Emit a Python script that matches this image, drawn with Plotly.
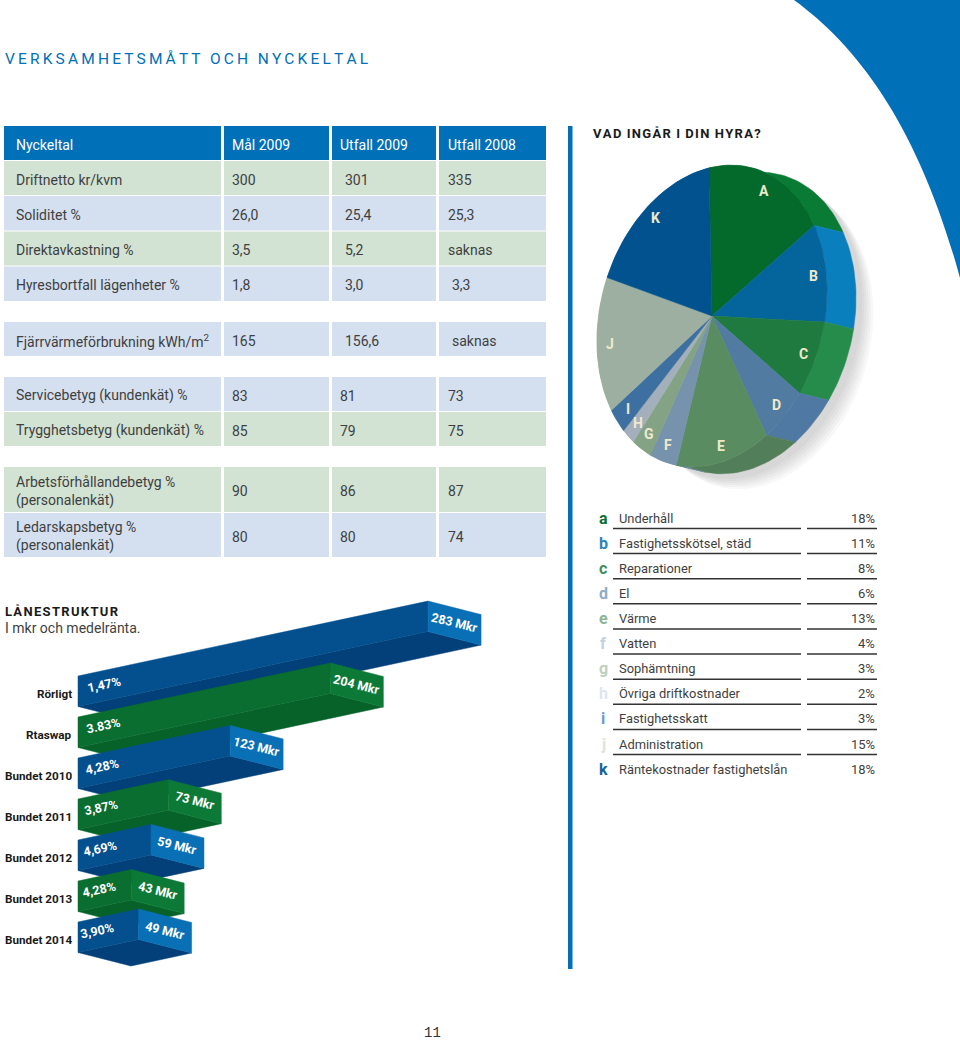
import math
import plotly.graph_objects as go

# ---------- data ----------
table_headers = ["Nyckeltal", "Mål 2009", "Utfall 2009", "Utfall 2008"]
table_labels = ["Driftnetto kr/kvm", "Soliditet %", "Direktavkastning %", "Hyresbortfall lägenheter %",
                "Fjärrvärmeförbrukning kWh/m<sup>2</sup>", "Servicebetyg (kundenkät) %",
                "Trygghetsbetyg (kundenkät) %", "Arbetsförhållandebetyg %<br>(personalenkät)",
                "Ledarskapsbetyg %<br>(personalenkät)"]
table_mal = ["300", "26,0", "3,5", "1,8", "165", "83", "85", "90", "80"]
table_utfall09 = ["301", "25,4", "5,2", "3,0", "156,6", "81", "79", "86", "80"]
table_utfall08 = ["335", "25,3", "saknas", "3,3", "saknas", "73", "75", "87", "74"]

cost_letters = ["a", "b", "c", "d", "e", "f", "g", "h", "i", "j", "k"]
cost_names = ["Underhåll", "Fastighetsskötsel, städ", "Reparationer", "El", "Värme", "Vatten", "Sophämtning",
              "Övriga driftkostnader", "Fastighetsskatt", "Administration", "Räntekostnader fastighetslån"]
cost_shares = [18, 11, 8, 6, 13, 4, 3, 2, 3, 15, 18]

loan_names = ["Rörligt", "Rtaswap", "Bundet 2010", "Bundet 2011", "Bundet 2012", "Bundet 2013", "Bundet 2014"]
loan_mkr = [283, 204, 123, 73, 59, 43, 49]
loan_rates = ["1,47%", "3.83%", "4,28%", "3,87%", "4,69%", "4,28%", "3,90%"]

# ---------- style ----------
W, H = 960, 1041
BLUE = "#0070b8"
TXT = "#3f3f3f"
BODY = "Roboto, Arial, sans-serif"
GREEN_ROW, BLUE_ROW = "#d2e2d3", "#d4dff0"

pie_front = ["#036a2b", "#04649c", "#1f7a40", "#517ba0", "#5a8c61", "#7692ad",
             "#84a384", "#a3b0bb", "#3d70a0", "#9cafa1", "#02528f"]
pie_side = ["#0a7b35", "#0a7fbd", "#268c4c", "#4f78a2", "#527f59", "#6f8ba6",
            "#7c9a7c", "#9aa7b2", "#3a6a98", "#93a698", "#024d86"]
letter_cols = ["#0a6e30", "#2a85b8", "#3f8f5f", "#8eacc8", "#8cb594", "#c4d0dc",
               "#bed0bd", "#dfe5ee", "#6b9cbf", "#dde5da", "#10639c"]

fig = go.Figure()
shapes, notes = [], []


def note(x, y, text, size=14, color=TXT, anchor="left", font=BODY, bold=False, angle=0, xref="x", yref="y"):
    notes.append(dict(x=x, y=y, xref=xref, yref=yref, text=f"<b>{text}</b>" if bold else text, showarrow=False,
                      xanchor=anchor, yanchor="middle", align="left", textangle=angle, borderpad=0, borderwidth=0,
                      font=dict(family=font, size=size, color=color)))


def poly(xs, ys, color, xaxis="x", yaxis="y"):
    fig.add_trace(go.Scatter(x=list(xs) + [xs[0]], y=list(ys) + [ys[0]], mode="lines", fill="toself", fillcolor=color,
                             line=dict(width=0.5, color=color), hoverinfo="skip", showlegend=False,
                             xaxis=xaxis, yaxis=yaxis))


def tracked(s, sep="\u2009", gap="\u2002"):
    return sep.join(s).replace(f"{sep} {sep}", f"{sep}{gap}{sep}")


# ---------- page furniture ----------
shapes.append(dict(type="path", layer="below", line_width=0, fillcolor=BLUE,
                   path="M 794,0 C 860,48 920,130 960,278 L 960,0 Z"))
shapes.append(dict(type="rect", layer="below", x0=568, x1=572.5, y0=126, y1=969, line_width=0, fillcolor=BLUE))
note(5, 59, tracked("VERKSAMHETSMÅTT OCH NYCKELTAL", gap="\u2009"), size=15.5, color=BLUE)
note(593, 133, tracked("VAD INGÅR I DIN HYRA?", sep="\u200a", gap="\u2009"), size=13, color="#1a1a1a", bold=True)
note(5, 611, tracked("LÅNESTRUKTUR", sep="\u200a"), size=13, color="#1a1a1a", bold=True)
note(5, 628, "I mkr och medelränta.", size=14)
note(432, 1033, "11", size=14, color="#333333", font="'Liberation Mono', monospace", anchor="center")

# ---------- table ----------
col_edges = [(4, 221), (224, 329), (332, 436), (439, 546)]
head_x = [16, 232, 340, 448]
val_x = [232, [345, 345, 345, 345, 345, 340, 340, 340, 340], [448, 448, 448, 452, 452, 448, 448, 448, 448]]
rows = [(161, 195, GREEN_ROW), (196, 230.5, BLUE_ROW), (231.5, 265.5, GREEN_ROW), (266.5, 301, BLUE_ROW),
        (322, 356, BLUE_ROW), (377, 411, BLUE_ROW), (412, 446, GREEN_ROW), (467, 512, GREEN_ROW), (513, 557, BLUE_ROW)]
for (a, b), hx, h in zip(col_edges, head_x, table_headers):
    shapes.append(dict(type="rect", layer="below", x0=a, x1=b, y0=126, y1=160, line_width=0, fillcolor=BLUE))
    note(hx, 144.5, h, color="white", size=14)
for i, (y0, y1, c) in enumerate(rows):
    for a, b in col_edges:
        shapes.append(dict(type="rect", layer="below", x0=a, x1=b, y0=y0, y1=y1, line_width=0, fillcolor=c))
    ym = (y0 + y1) / 2 + 1.5
    note(16, ym, table_labels[i])
    note(val_x[0], ym, table_mal[i])
    note(val_x[1][i], ym, table_utfall09[i])
    note(val_x[2][i], ym, table_utfall08[i])

# ---------- tilted pie (an affine projection of a circle, angles come from the shares) ----------
CX, CY = 712, 316
DX, DY = 29, 7


def pie_xy(theta, r=1.0):
    return CX + r * (115 * math.sin(theta) - 3 * math.cos(theta)), CY + r * (-148 * math.cos(theta) - 29 * math.sin(theta))


full = [pie_xy(math.radians(a)) for a in range(0, 360, 3)]
for k in range(6):
    sx, sy = DX + 6 + k * 2.2, DY + 5 + k * 2
    poly([p[0] + sx for p in full], [p[1] + sy for p in full], "rgba(60,60,60,0.035)")

total = sum(cost_shares)
bounds = [0.0]
for s in cost_shares:
    bounds.append(bounds[-1] + s / total * 2 * math.pi)


def arc(t0, t1):
    n = max(3, int((t1 - t0) / math.radians(2)))
    return [pie_xy(t0 + (t1 - t0) * j / n) for j in range(n + 1)]


for i in range(len(cost_shares)):
    a = arc(bounds[i], bounds[i + 1])
    xs = [p[0] for p in a] + [p[0] + DX for p in reversed(a)]
    ys = [p[1] for p in a] + [p[1] + DY for p in reversed(a)]
    poly(xs, ys, pie_side[i])
for i in range(len(cost_shares)):
    a = arc(bounds[i], bounds[i + 1])
    poly([CX] + [p[0] for p in a], [CY] + [p[1] for p in a], pie_front[i])
    lx, ly = pie_xy((bounds[i] + bounds[i + 1]) / 2, 0.89)
    note(lx, ly, cost_letters[i].upper(), size=14, color="#efe9cc", bold=True, anchor="center")

# ---------- cost legend ----------
STEP = 25.12
for i in range(len(cost_names)):
    y = 518 + STEP * i
    note(603, y, cost_letters[i], size=16, color=letter_cols[i], anchor="center", bold=True)
    note(619, y, cost_names[i], size=12.9)
    note(875, y, f"{cost_shares[i]}%", size=13, anchor="right")
    if i < len(cost_names) - 1:
        for a, b in ((613, 801), (807, 877)):
            shapes.append(dict(type="line", layer="below", x0=a, x1=b, y0=y + 10.5, y1=y + 10.5,
                               line=dict(color="#333333", width=1.5)))

# ---------- skewed loan bars, on their own Mkr / rank axes ----------
PX_PER_MKR = 1.237
X_ORIGIN, Y_ORIGIN, PX_PER_RANK = 78, 676, 41
THICK = 30.5 / PX_PER_RANK
RISE = 0.214 * PX_PER_MKR / PX_PER_RANK      # rank units climbed per Mkr
END_X, END_Y = 53 / PX_PER_MKR, 13.5 / PX_PER_RANK
bar_cols = [("#04508e", "#033f78", "#0a70b5"), ("#0a6e30", "#076229", "#0c7a36")]

for i, v in enumerate(loan_mkr):
    front, under, end = bar_cols[i % 2]
    tr = i - RISE * v
    poly([0, v, v + END_X, END_X], [i + THICK, tr + THICK, tr + THICK + END_Y, i + THICK + END_Y], under, "x2", "y2")
    poly([0, v, v, 0], [i, tr, tr + THICK, i + THICK], front, "x2", "y2")
    poly([v, v + END_X, v + END_X, v], [tr, tr + END_Y, tr + END_Y + THICK, tr + THICK], end, "x2", "y2")
    note(v + END_X / 2, tr + 21 / PX_PER_RANK, f"{v} Mkr", size=12.5, color="white", bold=True,
         anchor="center", angle=14, xref="x2", yref="y2")
    note((26 - 1.1 * i) / PX_PER_MKR, i + 8 / PX_PER_RANK, loan_rates[i], size=12.5, color="white",
         bold=True, anchor="center", angle=-12, xref="x2", yref="y2")
    note(-6 / PX_PER_MKR, i + 17.5 / PX_PER_RANK, loan_names[i], size=11.7, color="#1a1a1a", bold=True,
         anchor="right", xref="x2", yref="y2")

hidden = dict(visible=False, fixedrange=True)
fig.update_layout(
    width=W, height=H, margin=dict(l=0, r=0, t=0, b=0), paper_bgcolor="white", plot_bgcolor="rgba(0,0,0,0)",
    showlegend=False, hovermode=False, shapes=shapes, annotations=notes,
    xaxis=dict(range=[0, W], domain=[0, 1], **hidden),
    yaxis=dict(range=[H, 0], domain=[0, 1], **hidden),
    xaxis2=dict(range=[-X_ORIGIN / PX_PER_MKR, (W - X_ORIGIN) / PX_PER_MKR], domain=[0, 1], anchor="y2", overlaying="x", **hidden),
    yaxis2=dict(range=[(H - Y_ORIGIN) / PX_PER_RANK, -Y_ORIGIN / PX_PER_RANK], domain=[0, 1], anchor="x2", overlaying="y", **hidden),
)
fig.write_html("out.html", config={"displayModeBar": False}, post_script="document.body.style.margin='0';")
